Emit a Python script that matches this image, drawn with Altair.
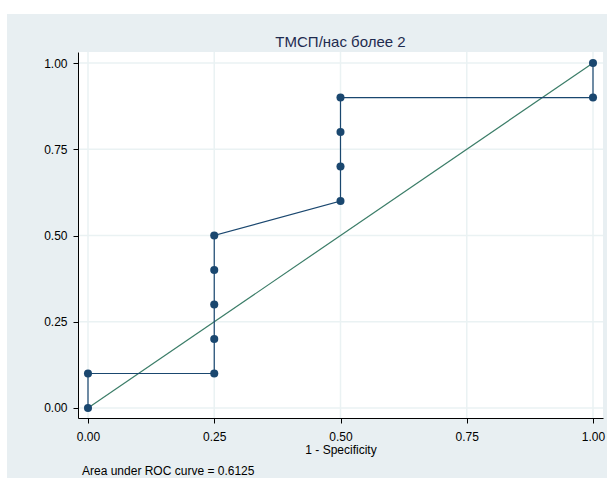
import altair as alt
import pandas as pd

# ROC points (1 - specificity, sensitivity)
fpr = [0.0, 0.0, 0.25, 0.25, 0.25, 0.25, 0.25, 0.5, 0.5, 0.5, 0.5, 1.0, 1.0]
tpr = [0.0, 0.1, 0.1, 0.2, 0.3, 0.4, 0.5, 0.6, 0.7, 0.8, 0.9, 0.9, 1.0]
ref_x = [0.0, 1.0]
ref_y = [0.0, 1.0]
ticks = [0.0, 0.25, 0.5, 0.75, 1.0]
title_text = "ТМСП/нас более 2"
x_title = "1 - Specificity"
note_text = "Area under ROC curve = 0.6125"

W, H = 525, 366
BG = "#e8eff2"
NAVY = "#1a476f"
GREEN = "#3b7d68"
GRID = "#eaf2f3"
FONT = "Liberation Sans"

roc = pd.DataFrame({"fpr": fpr, "tpr": tpr, "order": list(range(len(fpr)))})
ref = pd.DataFrame({"fpr": ref_x, "tpr": ref_y})
tk = pd.DataFrame({"v": ticks})

xscale = alt.Scale(domain=[-0.0198, 1.0198], nice=False, zero=False)
yscale = alt.Scale(domain=[-0.029, 1.032], nice=False, zero=False)

xaxis = alt.Axis(values=ticks, format=".2f", title=x_title, grid=False,
                 domainColor="black", tickColor="black", tickSize=5,
                 labelPadding=8, labelFontSize=12, labelFont=FONT,
                 labelColor="black", titleFont=FONT, titleFontSize=12,
                 titleFontWeight="normal", titleColor="black",
                 titlePadding=2, zindex=1)
yaxis = alt.Axis(values=ticks, format=".2f", title=None, grid=False,
                 domainColor="black", tickColor="black", tickSize=5,
                 labelPadding=6, labelFontSize=12, labelFont=FONT,
                 labelColor="black", zindex=1)

bgdummy = pd.DataFrame({"a": [0]})
outer = alt.Chart(bgdummy).mark_rect(color=BG, clip=False).encode(
    x=alt.value(-71), x2=alt.value(W + 4), y=alt.value(-38), y2=alt.value(H + 60))
inner = alt.Chart(bgdummy).mark_rect(color="white", clip=False).encode(
    x=alt.value(0), x2=alt.value(W), y=alt.value(0), y2=alt.value(H))

gridx = alt.Chart(tk).mark_rule(color=GRID, strokeWidth=1.5).encode(
    x=alt.X("v:Q", scale=xscale, axis=xaxis))
gridy = alt.Chart(tk).mark_rule(color=GRID, strokeWidth=1.5).encode(
    y=alt.Y("v:Q", scale=yscale, axis=yaxis))

refline = alt.Chart(ref).mark_line(color=GREEN, strokeWidth=1.2).encode(
    x=alt.X("fpr:Q", scale=xscale, axis=xaxis),
    y=alt.Y("tpr:Q", scale=yscale, axis=yaxis))

rocline = alt.Chart(roc).mark_line(color=NAVY, strokeWidth=1.2).encode(
    x=alt.X("fpr:Q", scale=xscale, axis=xaxis),
    y=alt.Y("tpr:Q", scale=yscale, axis=yaxis),
    order="order:Q")

rocpts = alt.Chart(roc).mark_circle(color=NAVY, size=65, opacity=1).encode(
    x=alt.X("fpr:Q", scale=xscale, axis=xaxis),
    y=alt.Y("tpr:Q", scale=yscale, axis=yaxis))

note = alt.Chart(pd.DataFrame({"t": [note_text]})).mark_text(
    align="left", baseline="alphabetic", font=FONT, fontSize=12, color="black"
).encode(x=alt.value(4), y=alt.value(H + 57), text="t:N")

chart = alt.layer(outer, inner, gridx, gridy, refline, rocline, rocpts, note).properties(
    width=W, height=H,
    title=alt.TitleParams(title_text, anchor="middle", frame="group", font=FONT,
                          fontSize=15, fontWeight="normal", color="#1e2b4f",
                          offset=-51, baseline="bottom", zindex=2),
    padding={"left": 78, "top": 52, "right": 4, "bottom": 70},
    autosize=alt.AutoSizeParams(type="none"),
    background="white",
).configure_view(stroke=None, fill=None)

chart.save("out.html", embed_options={"renderer": "svg", "actions": False})
